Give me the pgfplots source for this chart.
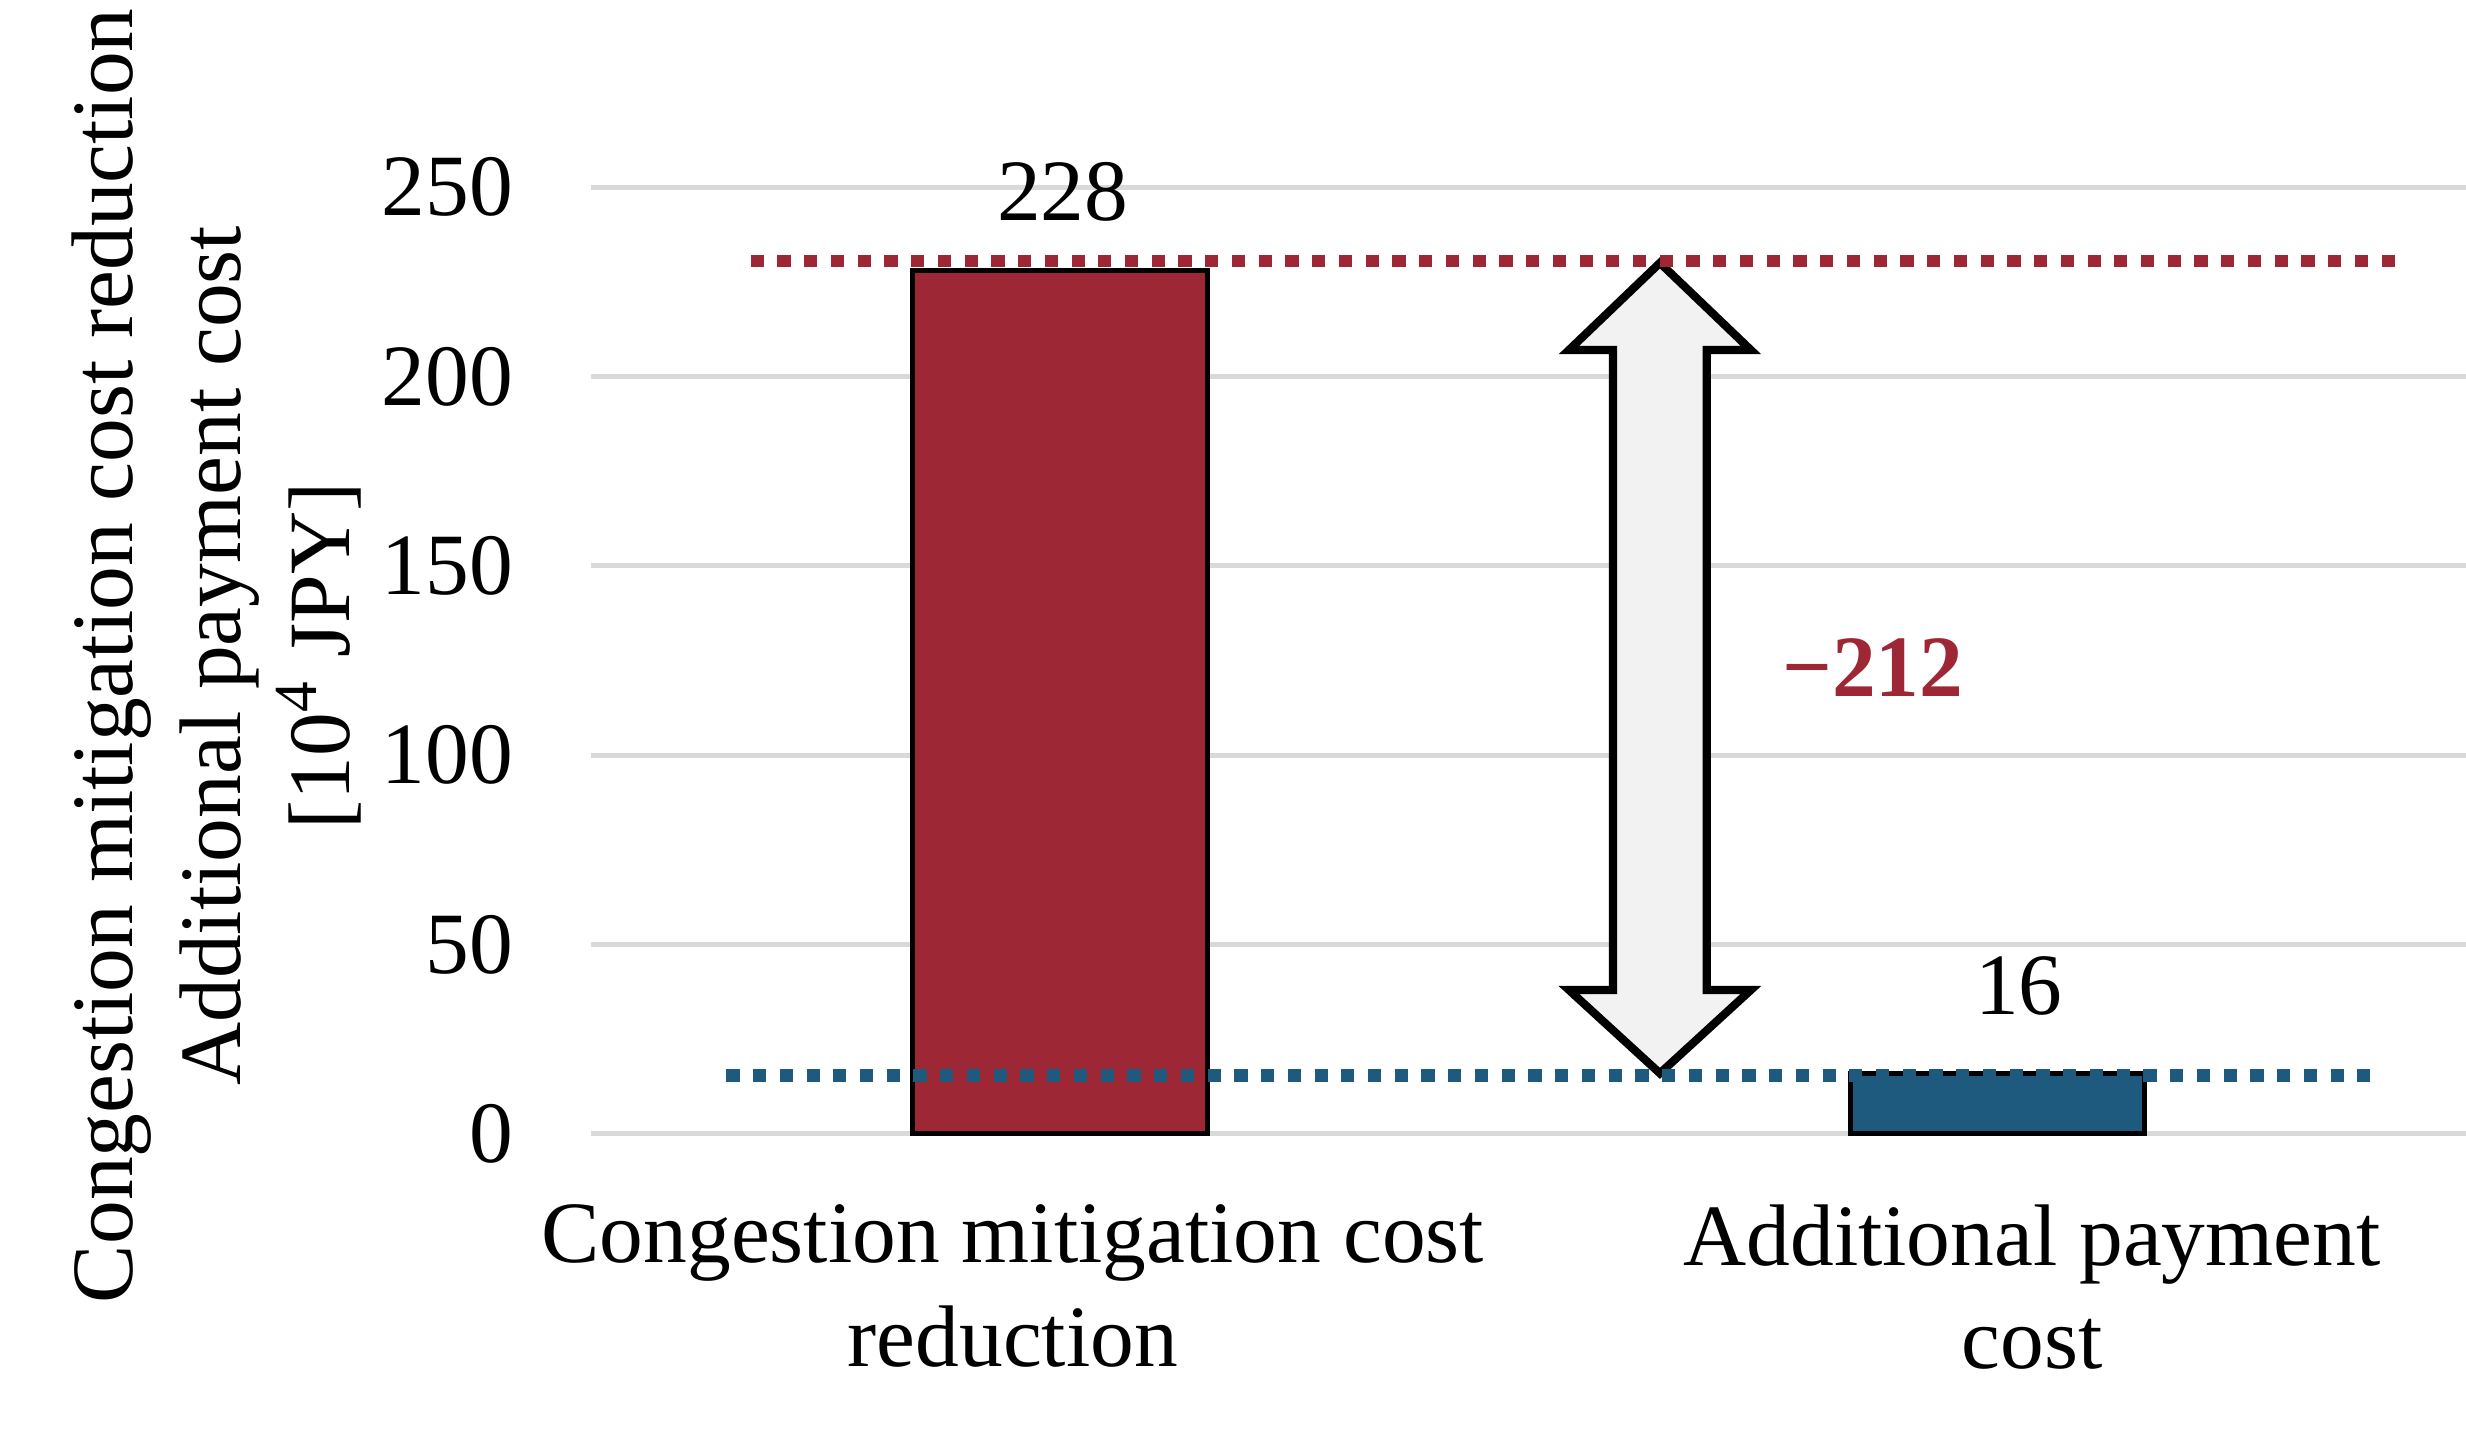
\documentclass[border=0pt]{standalone}
\usepackage{fontspec}
\setmainfont{Liberation Serif}
\usepackage{pgfplots}
\pgfplotsset{compat=1.18}
\definecolor{rred}{HTML}{9E2736}
\definecolor{bblue}{HTML}{1D5A7D}
\definecolor{ggrid}{HTML}{D9D9D9}
\definecolor{aarrow}{HTML}{F2F2F2}
\newcommand\fs{\fontsize{13.9}{16.5}\selectfont}

\begin{document}
\begin{tikzpicture}
\begin{axis}[
    width=298pt, height=150.5pt, scale only axis,
    xmin=-0.5, xmax=1.5, ymin=0, ymax=250,
    clip=false,
    axis line style={draw=none},
    major tick length=0pt,
    ytick={0,50,...,250},
    xtick={0,1},
    xticklabels={{Congestion mitigation cost\\reduction},{Additional payment\\cost}},
    ymajorgrids,
    grid style={ggrid, line width=0.8pt},
    ybar, bar width=46.75pt, bar shift=0pt,
    tick label style={font=\fs},
    /pgf/number format/assume math mode=true,
    yticklabel style={anchor=east, inner sep=0pt, xshift=-12.25pt},
    xticklabel style={anchor=north, inner sep=0pt, align=center, yshift=-11pt,
        xshift={(\ticknum==0) ? -7.5 : 5.5}},
    ylabel={Congestion mitigation cost reduction\\Additional payment cost\\{[}10\textsuperscript{4}~JPY{]}},
    every axis y label/.style={at={(axis description cs:-0.122,0.505)}, anchor=south,
        rotate=90, inner sep=0pt, align=center, font=\fontsize{13.9}{17.3}\selectfont},
]
% bars
\addplot[fill=rred, draw=black, line width=0.8pt] coordinates {(0,228)};
\addplot[fill=bblue, draw=black, line width=0.8pt] coordinates {(1,16)};

% difference arrow
\draw[black, line width=1.3pt, fill=aarrow, line join=miter]
    (axis cs:0.64,230) -- (axis cs:0.737,207) -- (axis cs:0.69,207)
    -- (axis cs:0.69,38) -- (axis cs:0.737,38) -- (axis cs:0.64,16)
    -- (axis cs:0.543,38) -- (axis cs:0.59,38) -- (axis cs:0.59,207)
    -- (axis cs:0.543,207) -- cycle;

% reference lines
\draw[rred, line width=2pt, dash pattern=on 2.1pt off 2.15pt] (axis cs:-0.33,230.5) -- (axis cs:1.426,230.5);
\draw[bblue, line width=2pt, dash pattern=on 2.1pt off 2.15pt] (axis cs:-0.356,15.5) -- (axis cs:1.401,15.5);

% value labels
\node[font=\fs, anchor=base, yshift=8pt] at (axis cs:0.003,228) {228};
\node[font=\fs, anchor=base, yshift=9.4pt] at (axis cs:1.023,16) {16};
\node[font=\fs\bfseries, text=rred, anchor=base] at (axis cs:0.867,115.4) {−212};
\end{axis}
\pgfresetboundingbox
\path ([shift={(-94pt,-48.75pt)}]current axis.south west) rectangle ([shift={(0pt,29.75pt)}]current axis.north east);
\end{tikzpicture}
\end{document}
